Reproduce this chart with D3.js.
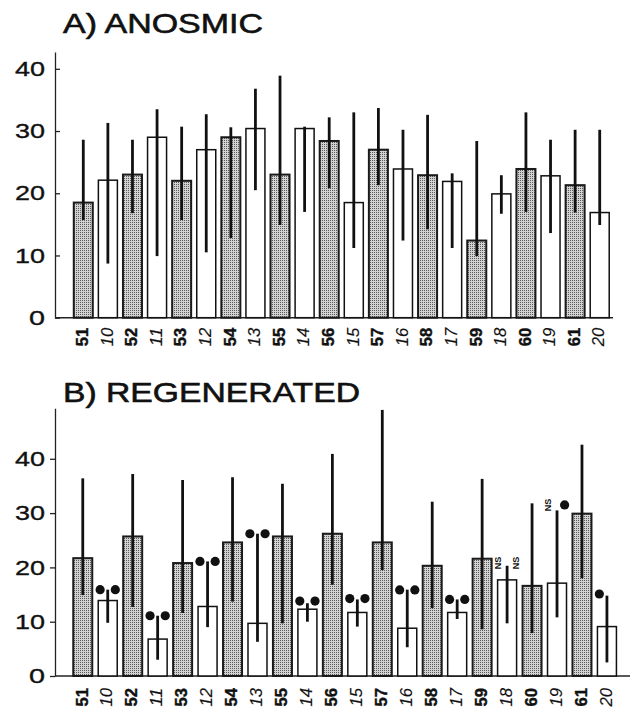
<!DOCTYPE html>
<html>
<head>
<meta charset="utf-8">
<script src="https://cdn.jsdelivr.net/npm/d3@7"></script>
<style>
  html, body { margin: 0; padding: 0; background: #fff; }
  svg { display: block; }
  text { font-family: "Liberation Sans", Arial, Helvetica, sans-serif; fill: #111; }
</style>
</head>
<body>
<svg id="chart" width="632" height="710"></svg>
<script>
// ---------- data ----------
const categories = ["51","10","52","11","53","12","54","13","55","14","56","15","57","16","58","17","59","18","60","19","61","20"];
const yTicks = [0, 10, 20, 30, 40];

const anosmicMean = [18.5,22.1,23.0,29.0,22.0,27.0,29.0,30.4,23.0,30.4,28.4,18.5,27.0,23.9,22.9,21.9,12.4,19.9,23.9,22.8,21.3,16.9];
const anosmicHigh = [28.6,31.3,28.6,33.5,30.7,32.7,30.6,36.8,38.9,30.7,32.2,33.0,33.7,30.2,32.6,23.2,28.4,22.9,33.0,28.6,30.2,30.2];
const anosmicLow  = [15.7,8.7,16.8,9.9,15.7,10.5,12.8,20.5,14.9,17.0,20.8,11.2,21.3,12.4,14.2,11.2,9.9,16.7,17.0,13.6,16.9,14.9];

const regenMean = [21.7,13.9,25.7,6.8,20.8,12.8,24.6,9.7,25.7,12.3,26.2,11.7,24.6,8.8,20.3,11.7,21.6,17.7,16.6,17.1,29.9,9.1];
const regenHigh = [36.4,15.9,37.2,11.1,36.1,21.1,36.6,26.2,35.4,13.4,40.9,14.1,49.0,15.9,32.1,14.1,36.3,20.3,31.8,30.5,42.6,14.8];
const regenLow  = [14.9,9.8,12.7,3.0,11.6,9.0,13.7,6.3,9.7,10.0,16.8,9.1,19.5,5.3,12.5,10.5,8.6,9.7,7.9,10.8,18.0,2.5];

// significance markers (B): left / right of the error bar, and their level
const regenMarkLeft  = ["","dot","","dot","","dot","","dot","","dot","","dot","","dot","","dot","","NS","","NS","","dot"];
const regenMarkRight = ["","dot","","dot","","dot","","dot","","dot","","dot","","dot","","dot","","NS","","dot","",""];
const regenMarkLevel = [null,15.9,null,11.1,null,21.1,null,26.2,null,13.8,null,14.25,null,15.85,null,14.1,null,20.8,null,31.5,null,15.1];

// ---------- drawing ----------
const svg = d3.select("#chart");
const defs = svg.append("defs");
const pat = defs.append("pattern").attr("id","stipple").attr("patternUnits","userSpaceOnUse")
  .attr("width",2).attr("height",2);
pat.append("rect").attr("width",2).attr("height",2).attr("fill","#d2d2d2");
pat.append("rect").attr("width",1).attr("height",1).attr("fill","#5a5a5a");

const isFilled = (c) => c[0] === "5" || c[0] === "6";

function panel(opts) {
  const g = svg.append("g");
  const y = d3.scaleLinear().domain([0, opts.yMax]).range([opts.y0, opts.yTop]);
  const x = d3.scaleBand().domain(categories).range(opts.xRange).padding(opts.pad);
  const bw = x.bandwidth();
  const cx = (c) => x(c) + bw / 2;

  // title
  g.append("text").attr("x", 63).attr("y", opts.titleY)
    .attr("font-size", 28).attr("stroke", "#111").attr("stroke-width", 0.6)
    .attr("textLength", opts.titleLen).attr("lengthAdjust", "spacingAndGlyphs")
    .text(opts.title);

  // y axis
  const axis = d3.axisLeft(y).tickValues(yTicks).tickFormat(d3.format("d"))
    .tickSizeInner(opts.tickIn).tickSizeOuter(0).tickPadding(opts.tickPad);
  const ag = g.append("g").attr("transform", `translate(55,0)`).call(axis);
  ag.select(".domain").attr("stroke", "#222").attr("stroke-width", 1.3);
  ag.selectAll(".tick line").attr("stroke", "#222").attr("stroke-width", 1.3);
  ag.selectAll(".tick text").attr("font-size", 21).attr("fill", "#111")
    .attr("stroke", "#111").attr("stroke-width", 0.35)
    .attr("font-family", "Liberation Sans, Arial, sans-serif")
    .each(function(d) {
      const n = String(d).length;
      d3.select(this).attr("textLength", n === 1 ? 16 : 30).attr("lengthAdjust", "spacingAndGlyphs");
    });

  // baseline
  g.append("line").attr("x1", 55).attr("x2", opts.baseEnd)
    .attr("y1", y(0)).attr("y2", y(0)).attr("stroke", "#222").attr("stroke-width", 1.5);

  // bars
  g.selectAll("rect.bar").data(categories).join("rect").attr("class","bar")
    .attr("x", c => x(c)).attr("width", bw)
    .attr("y", (c,i) => y(opts.mean[i])).attr("height", (c,i) => y(0) - y(opts.mean[i]))
    .attr("fill", c => isFilled(c) ? "url(#stipple)" : "#fff")
    .attr("stroke", c => isFilled(c) ? "#1a1a1a" : "#111")
    .attr("stroke-width", c => isFilled(c) ? 2 : 1.5);

  // error bars
  g.selectAll("line.err").data(categories).join("line").attr("class","err")
    .attr("x1", cx).attr("x2", cx)
    .attr("y1", (c,i) => y(opts.high[i])).attr("y2", (c,i) => y(opts.low[i]))
    .attr("stroke", "#111").attr("stroke-width", 2.8);

  // x labels
  g.selectAll("text.xl").data(categories).join("text").attr("class","xl")
    .attr("transform", c => `translate(${cx(c) - 1},${y(0) + opts.labOff}) rotate(-90)`)
    .attr("text-anchor", "end").attr("dy", "0.36em")
    .attr("font-size", 16)
    .attr("font-weight", c => isFilled(c) ? "bold" : "normal")
    .attr("font-style", c => isFilled(c) ? "normal" : "italic")
    .attr("stroke", "#111").attr("stroke-width", c => isFilled(c) ? 0.4 : 0.15)
    .attr("textLength", 18.5).attr("lengthAdjust", "spacingAndGlyphs")
    .text(c => c);

  return {g, x, y, cx};
}

const A = panel({
  title: "A) ANOSMIC", titleY: 33, titleLen: 200,
  yMax: 42.7, y0: 317.7, yTop: 52,
  xRange: [68.2, 614.8], pad: 0.227, baseEnd: 613,
  tickIn: -5, tickPad: 10, labOff: 10,
  mean: anosmicMean, high: anosmicHigh, low: anosmicLow
});

const B = panel({
  title: "B) REGENERATED", titleY: 401.7, titleLen: 297,
  yMax: 49.3, y0: 676, yTop: 408.3,
  xRange: [67.3, 622.4], pad: 0.239, baseEnd: 630,
  tickIn: 5, tickPad: 5, labOff: 12,
  mean: regenMean, high: regenHigh, low: regenLow
});

// markers in B
function drawMark(kind, px, py) {
  if (kind === "dot") {
    B.g.append("circle").attr("cx", px).attr("cy", py).attr("r", 4.6).attr("fill", "#111");
  } else if (kind === "NS") {
    B.g.append("text").attr("transform", `translate(${px},${py}) rotate(-90)`)
      .attr("text-anchor", "middle").attr("dy", "0.35em")
      .attr("font-size", 9).attr("font-weight", "bold").attr("fill", "#000").text("NS");
  }
}
categories.forEach((c, i) => {
  if (regenMarkLevel[i] == null) return;
  const py = B.y(regenMarkLevel[i]);
  const off = regenMarkLeft[i] === "NS" ? 8.8 : 7.6;
  const offR = regenMarkRight[i] === "NS" ? 8.4 : 7.6;
  if (regenMarkLeft[i]) drawMark(regenMarkLeft[i], B.cx(c) - off, py);
  if (regenMarkRight[i]) drawMark(regenMarkRight[i], B.cx(c) + offR, py);
});
</script>
</body>
</html>
